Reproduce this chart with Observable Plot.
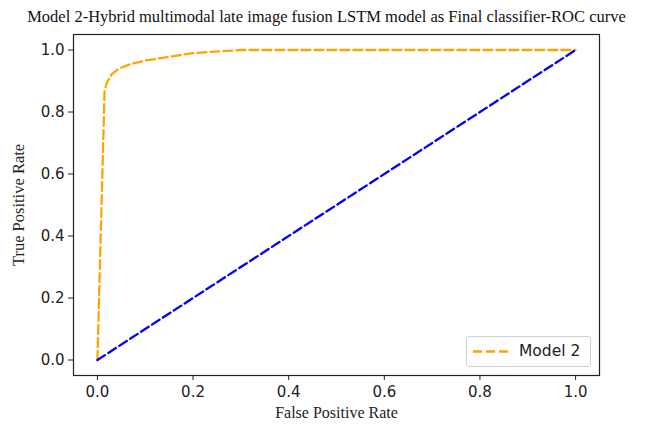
<!DOCTYPE html>
<html>
<head>
<meta charset="utf-8">
<script src="https://cdn.jsdelivr.net/npm/d3@7"></script>
<script src="https://cdn.jsdelivr.net/npm/@observablehq/plot@0.6"></script>
<style>
  body { margin: 0; background: #fff; width: 653px; height: 425px; position: relative; overflow: hidden; }
  #title { height: 30px; line-height: 34px; text-align: center; font-family: "Liberation Serif", serif; font-size: 16.5px; color: #111; white-space: nowrap; }
  #legend { position: absolute; left: 466px; top: 336px; width: 123px; height: 29px; border: 1px solid #d0d0d0; border-radius: 3px; background: #fff; font-family: "DejaVu Sans", sans-serif; font-size: 15.5px; color: #222; }
  #legend svg { position: absolute; left: 5px; top: 0; }
  #legend span { position: absolute; left: 52px; top: 5px; }
</style>
</head>
<body>
<div id="title">Model 2-Hybrid multimodal late image fusion LSTM model as Final classifier-ROC curve</div>
<div id="chart"></div>
<div id="legend"><svg width="40" height="29"><line x1="1" x2="36" y1="14.5" y2="14.5" stroke="orange" stroke-width="2.3" stroke-dasharray="9,4"></line></svg><span id="legtext"></span></div>
<script>
const modelName = "Model 2";
const fpr = [0, 0.015, 0.02, 0.03, 0.045, 0.07, 0.1, 0.15, 0.2, 0.3, 1.0];
const tpr = [0, 0.87, 0.895, 0.922, 0.94, 0.955, 0.966, 0.978, 0.99, 1.0, 1.0];
const chanceX = [0, 1];
const chanceY = [0, 1];
const ticks = [0, 0.2, 0.4, 0.6, 0.8, 1.0];
const xLabel = "False Positive Rate";
const yLabel = "True Positive Rate";

document.getElementById("legtext").textContent = modelName;

const roc = fpr.map((f, i) => ({fpr: f, tpr: tpr[i]}));
const chance = chanceX.map((f, i) => ({fpr: f, tpr: chanceY[i]}));

const chart = Plot.plot({
  width: 653,
  height: 395,
  marginLeft: 73,
  marginRight: 54,
  marginTop: 4,
  marginBottom: 50,
  style: {fontFamily: "DejaVu Sans, sans-serif", fontSize: "15.5px", color: "#222", background: "#fff"},
  x: {domain: [-0.05, 1.05]},
  y: {domain: [-0.05, 1.05]},
  marks: [
    Plot.axisX({ticks, tickFormat: d3.format(".1f"), tickSize: 5, tickPadding: 6, fontSize: 15, label: null, stroke: "#222"}),
    Plot.axisY({ticks, tickFormat: d3.format(".1f"), tickSize: 5, tickPadding: 4, fontSize: 15, label: null, stroke: "#222"}),
    Plot.line(roc, {x: "fpr", y: "tpr", stroke: "orange", strokeWidth: 2.3, strokeDasharray: "9,4"}),
    Plot.line(chance, {x: "fpr", y: "tpr", stroke: "blue", strokeWidth: 2.3, strokeDasharray: "9,4"}),
    Plot.frame({stroke: "#222", strokeWidth: 1.2}),
    Plot.text([xLabel], {text: d => d, frameAnchor: "bottom", lineAnchor: "middle", textAnchor: "middle", dy: 37, fontFamily: "Liberation Serif, serif", fontSize: 16, fill: "#222"}),
    Plot.text([yLabel], {text: d => d, frameAnchor: "left", lineAnchor: "middle", textAnchor: "middle", rotate: -90, dx: -55, fontFamily: "Liberation Serif, serif", fontSize: 16.5, fill: "#222"})
  ]
});
document.getElementById("chart").appendChild(chart);
</script>
</body>
</html>
